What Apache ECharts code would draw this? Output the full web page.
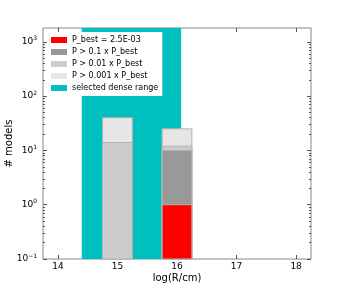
<!DOCTYPE html>
<html><head><meta charset="utf-8">
<script src="https://cdn.jsdelivr.net/npm/echarts@6/dist/echarts.min.js"></script>
<style>html,body{margin:0;padding:0;background:#fff}#c{width:346px;height:289px}</style>
</head><body><div id="c"></div>
<script>
const binLeft = [14.75, 15.75];
const binRight = [15.25, 16.25];
const pBest = [0, 1];
const p01 = [0, 10];
const p001 = [14, 12];
const p0001 = [40, 25];
const denseRange = [14.4, 16.07];
const xTicks = [14, 15, 16, 17, 18];
const yTicks = [0.1, 1, 10, 100, 1000];
const names = ['P_best = 2.5E-03', 'P > 0.1 x P_best', 'P > 0.01 x P_best', 'P > 0.001 x P_best', 'selected dense range'];
const yMin = 0.1, yMax = 1800;
const minorTicks = [];
for (let e = -1; e <= 3; e++) for (let m = 2; m <= 9; m++) { const v = m * Math.pow(10, e); if (v < yMax) minorTicks.push(v); }

function barSeries(name, vals, color) {
  const data = [];
  vals.forEach((v, i) => { if (v > 0) data.push([binLeft[i], binRight[i], v]); });
  return {
    name, type: 'custom', itemStyle: { color },
    renderItem: (params, api) => {
      const p0 = api.coord([api.value(0), api.value(2)]);
      const p1 = api.coord([api.value(1), yMin]);
      return { type: 'rect', shape: { x: p0[0], y: p0[1], width: p1[0] - p0[0], height: p1[1] - p0[1] },
        style: { fill: color, stroke: '#b4b4b4', lineWidth: 1 } };
    },
    encode: { x: [0, 1], y: 2 }, data
  };
}
const dense = {
  name: names[4], type: 'custom', itemStyle: { color: '#00bfbf' },
  renderItem: (params, api) => {
    const p0 = api.coord([api.value(0), yMax]);
    const p1 = api.coord([api.value(1), yMin]);
    return { type: 'rect', shape: { x: p0[0], y: p0[1], width: p1[0] - p0[0], height: p1[1] - p0[1] },
      style: { fill: '#00bfbf' } };
  },
  encode: { x: [0, 1] }, data: [[denseRange[0], denseRange[1]]]
};
const font = 'DejaVu Sans';
const supMap = { '-1': '−1', '0': '0', '1': '1', '2': '2', '3': '3' };
const chart = echarts.init(document.getElementById('c'));
const axisCommon = { type: 'log', logBase: 10, min: yMin, max: yMax, splitLine: { show: false } };
chart.setOption({
  animation: false,
  textStyle: { fontFamily: font },
  grid: { left: 43, right: 35, top: 28, bottom: 30, containLabel: false, outerBoundsMode: 'none',
    show: true, borderColor: '#888', borderWidth: 1, backgroundColor: 'transparent' },
  legend: {
    data: names, orient: 'vertical', left: 47, top: 32, itemWidth: 16, itemHeight: 6, itemGap: 0,
    icon: 'rect', backgroundColor: '#fff', padding: [2, 4, 2, 4],
    textStyle: { fontFamily: font, fontSize: 8, color: '#000', lineHeight: 12 }
  },
  xAxis: [{
    type: 'value', min: 13.75, max: 18.25, name: 'log(R/cm)', nameLocation: 'middle', nameGap: 14,
    nameMoveOverlap: false,
    nameTextStyle: { fontFamily: font, fontSize: 10, color: '#000' },
    axisLine: { show: false }, splitLine: { show: false },
    axisTick: { inside: true, length: 4, lineStyle: { color: '#555' }, customValues: xTicks },
    axisLabel: { fontFamily: font, fontSize: 9, color: '#000', margin: 3, customValues: xTicks }
  }, {
    type: 'value', position: 'top', min: 13.75, max: 18.25, axisLine: { show: false }, splitLine: { show: false },
    axisTick: { inside: true, length: 4, lineStyle: { color: '#555' }, customValues: xTicks },
    axisLabel: { show: false }
  }],
  yAxis: [Object.assign({}, axisCommon, {
    name: '# models', nameLocation: 'middle', nameGap: 29, nameMoveOverlap: false,
    nameTextStyle: { fontFamily: font, fontSize: 10, color: '#000' },
    axisLine: { show: false },
    axisTick: { inside: true, length: 4, lineStyle: { color: '#555' }, customValues: yTicks },
    axisLabel: { margin: 6, customValues: yTicks, color: '#000',
      formatter: v => '{b|10}{e|' + supMap[String(Math.round(Math.log10(v)))] + '}',
      rich: { b: { fontFamily: font, fontSize: 9, color: '#000' }, e: { fontFamily: font, fontSize: 6, color: '#000', padding: [0, 0, 6, 0] } } }
  }), Object.assign({}, axisCommon, {
    position: 'left', axisLine: { show: false }, axisLabel: { show: false },
    axisTick: { inside: true, length: 2, lineStyle: { color: '#555' }, customValues: minorTicks }
  }), Object.assign({}, axisCommon, {
    position: 'right', axisLine: { show: false }, axisLabel: { show: false },
    axisTick: { inside: true, length: 4, lineStyle: { color: '#555' }, customValues: yTicks }
  }), Object.assign({}, axisCommon, {
    position: 'right', axisLine: { show: false }, axisLabel: { show: false },
    axisTick: { inside: true, length: 2, lineStyle: { color: '#555' }, customValues: minorTicks }
  })],
  series: [
    dense,
    barSeries(names[3], p0001, '#e6e6e6'),
    barSeries(names[2], p001, '#cccccc'),
    barSeries(names[1], p01, '#999999'),
    barSeries(names[0], pBest, '#ff0000')
  ]
});
</script></body></html>
